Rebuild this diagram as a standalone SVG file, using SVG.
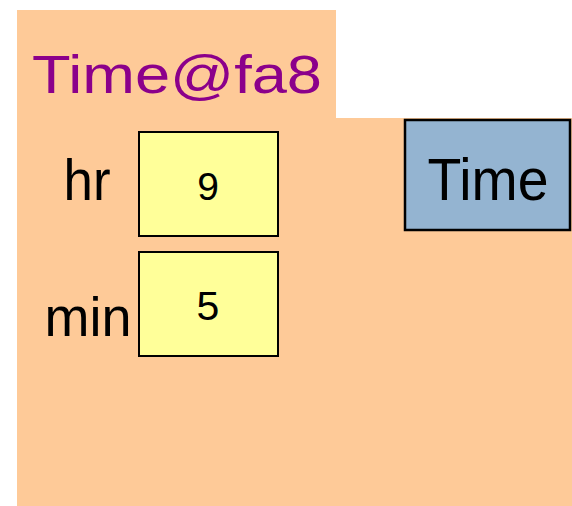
<svg xmlns="http://www.w3.org/2000/svg" width="572" height="506" viewBox="0 0 572 506">
<style>
.t{font-family:"Liberation Sans","DejaVu Sans",sans-serif;fill:#000}
.box{fill:#FFFF99;stroke:#000;stroke-width:2}
</style>
<rect width="572" height="506" fill="#fff"/>
<g id="frame">
<path d="M17,10 H336 V118 H572 V506 H17 Z" fill="#FECA98"/>
<text class="t" x="32" y="93" font-size="53" fill="#8B008B" style="fill:#8B008B" textLength="290" lengthAdjust="spacingAndGlyphs">Time@fa8</text>
</g>
<g id="hr">
<text class="t" x="87" y="200" font-size="58" text-anchor="middle" textLength="47" lengthAdjust="spacingAndGlyphs">hr</text>
<rect class="box" x="139" y="132" width="139" height="104"/>
<text class="t" x="208" y="200" font-size="39" text-anchor="middle">9</text>
</g>
<g id="min">
<text class="t" x="88" y="336" font-size="56" text-anchor="middle" textLength="87" lengthAdjust="spacingAndGlyphs">min</text>
<rect class="box" x="139" y="252" width="139" height="104"/>
<text class="t" x="208" y="320" font-size="41" text-anchor="middle">5</text>
</g>
<g id="Time">
<rect x="405" y="120" width="165" height="110" fill="#94B4D1" stroke="#000" stroke-width="2.5"/>
<text class="t" x="488" y="200" font-size="59" text-anchor="middle" textLength="121" lengthAdjust="spacingAndGlyphs">Time</text>
</g>
<g id="connectors"/>
</svg>
